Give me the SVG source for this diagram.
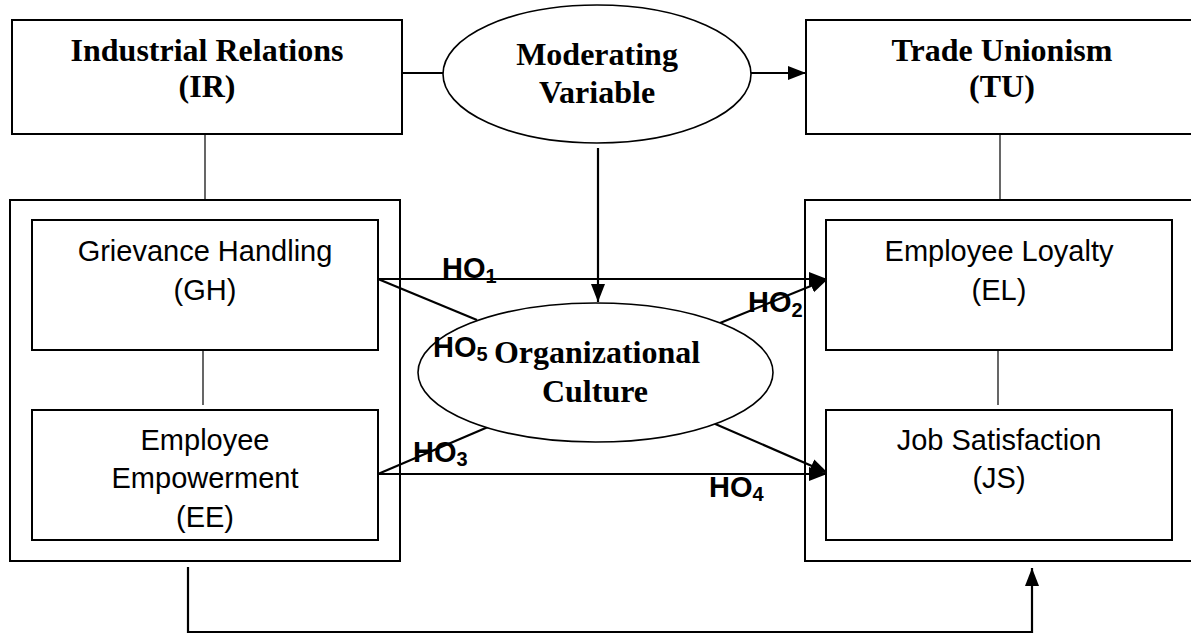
<svg xmlns="http://www.w3.org/2000/svg" width="1191" height="634" viewBox="0 0 1191 634">
<defs>
<marker id="ah" markerUnits="userSpaceOnUse" markerWidth="20" markerHeight="16" refX="18" refY="7" orient="auto">
<path d="M0,0 L18,7 L0,14 Z" fill="#000"/>
</marker>
<style>
.box{fill:#fff;stroke:#000;stroke-width:2}
.frame{fill:none;stroke:#000;stroke-width:2}
.ell{fill:#fff;stroke:#000;stroke-width:1.6}
.thin{stroke:#000;stroke-width:1.2;fill:none}
.arr{stroke:#000;stroke-width:2.2;fill:none}
.serif{font-family:"Liberation Serif","Times New Roman",serif;font-weight:bold;font-size:32px;text-anchor:middle;fill:#000}
.sans{font-family:"Liberation Sans",Arial,sans-serif;font-size:29px;text-anchor:middle;fill:#000}
.ho{font-family:"Liberation Sans",Arial,sans-serif;font-weight:bold;font-size:29px;fill:#000}
.sub{font-size:20px}
</style>
</defs>
<rect width="1191" height="634" fill="#fff"/>

<g id="connectors">
<line class="thin" x1="205" y1="134" x2="205" y2="200"/>
<line class="thin" x1="1000" y1="134" x2="1000" y2="200"/>
<line class="thin" x1="203" y1="350" x2="203" y2="405"/>
<line class="thin" x1="998" y1="350" x2="998" y2="405"/>
<line class="arr" x1="402" y1="73" x2="443" y2="73"/>
<line class="arr" x1="751" y1="73" x2="806" y2="73" marker-end="url(#ah)"/>
<line class="arr" x1="598" y1="148" x2="598" y2="302" marker-end="url(#ah)"/>
<line class="arr" x1="378" y1="279" x2="827" y2="279" marker-end="url(#ah)"/>
<line class="arr" x1="378" y1="279" x2="477" y2="320"/>
<line class="arr" x1="720" y1="323" x2="828" y2="279" marker-end="url(#ah)"/>
<line class="arr" x1="378" y1="474" x2="827" y2="474" marker-end="url(#ah)"/>
<line class="arr" x1="378" y1="474" x2="488" y2="427"/>
<line class="arr" x1="713" y1="423" x2="828" y2="473" marker-end="url(#ah)"/>
<polyline class="arr" points="188,567 188,632 1032,632 1032,568" marker-end="url(#ah)"/>
</g>

<g id="ir">
<rect class="box" x="12" y="20" width="390" height="114"/>
<text class="serif" x="207" y="61">Industrial Relations</text>
<text class="serif" x="207" y="97">(IR)</text>
</g>

<g id="tu">
<rect class="box" x="806" y="20" width="400" height="114"/>
<text class="serif" x="1002" y="61">Trade Unionism</text>
<text class="serif" x="1002" y="97">(TU)</text>
</g>

<g id="moderating">
<ellipse class="ell" cx="597" cy="74" rx="154" ry="69"/>
<text class="serif" x="597" y="65">Moderating</text>
<text class="serif" x="597" y="103">Variable</text>
</g>

<g id="left-group">
<rect class="frame" x="10" y="200" width="390" height="361"/>
</g>
<g id="gh">
<rect class="box" x="32" y="220" width="346" height="130"/>
<text class="sans" x="205" y="261">Grievance Handling</text>
<text class="sans" x="205" y="300">(GH)</text>
</g>
<g id="ee">
<rect class="box" x="32" y="410" width="346" height="130"/>
<text class="sans" x="205" y="450">Employee</text>
<text class="sans" x="205" y="488">Empowerment</text>
<text class="sans" x="205" y="527">(EE)</text>
</g>

<g id="right-group">
<rect class="frame" x="805" y="200" width="400" height="361"/>
</g>
<g id="el">
<rect class="box" x="826" y="220" width="346" height="130"/>
<text class="sans" x="999" y="261">Employee Loyalty</text>
<text class="sans" x="999" y="300">(EL)</text>
</g>
<g id="js">
<rect class="box" x="826" y="410" width="346" height="130"/>
<text class="sans" x="999" y="450">Job Satisfaction</text>
<text class="sans" x="999" y="488">(JS)</text>
</g>

<g id="org-culture">
<ellipse class="ell" cx="595.5" cy="372.5" rx="177.5" ry="69.5"/>
<text class="serif" x="597" y="363">Organizational</text>
<text class="serif" x="595" y="402">Culture</text>
</g>

<g id="labels">
<text class="ho" x="442" y="278">HO<tspan class="sub" dy="5">1</tspan></text>
<text class="ho" x="748" y="312">HO<tspan class="sub" dy="5">2</tspan></text>
<text class="ho" x="413" y="462">HO<tspan class="sub" dy="4">3</tspan></text>
<text class="ho" x="709" y="497">HO<tspan class="sub" dy="4">4</tspan></text>
<text class="ho" x="433" y="357">HO<tspan class="sub" dy="4">5</tspan></text>
</g>
</svg>
